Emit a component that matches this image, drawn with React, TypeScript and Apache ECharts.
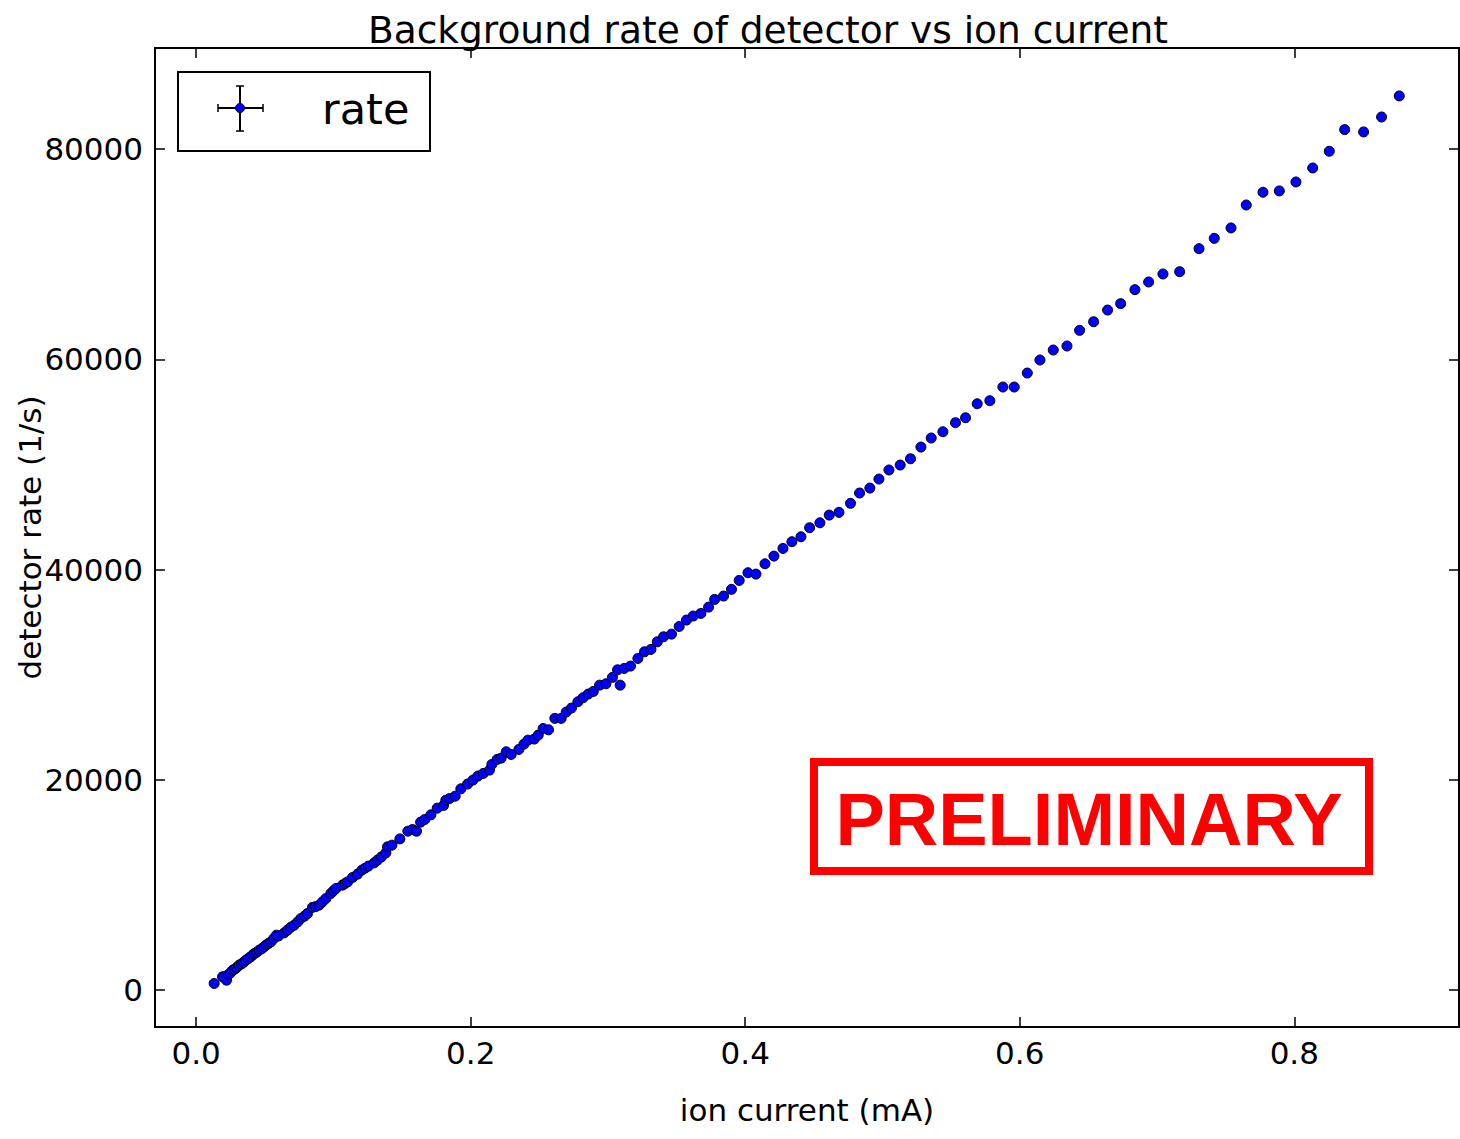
import React, { useEffect, useRef } from "react";
import * as echarts from "echarts";

const ionCurrent: number[] = [
  0.0131, 0.0192, 0.0204, 0.0221, 0.0235, 0.025, 0.0265, 0.028, 0.0295, 0.0313,
  0.033, 0.0345, 0.0362, 0.0378, 0.0395, 0.041, 0.0425, 0.044, 0.0459, 0.0478,
  0.0495, 0.051, 0.0527, 0.0544, 0.0565, 0.0585, 0.06, 0.0641, 0.0665, 0.069,
  0.0714, 0.074, 0.0763, 0.079, 0.0811, 0.0847, 0.087, 0.0896, 0.092, 0.0945,
  0.0981, 0.1, 0.1018, 0.1066, 0.1085, 0.1103, 0.1139, 0.1175, 0.1207, 0.123,
  0.1255, 0.1297, 0.1321, 0.135, 0.1382, 0.1394, 0.1426, 0.1484, 0.1542, 0.1576,
  0.1605, 0.1635, 0.1666, 0.171, 0.1756, 0.1802, 0.1819, 0.1846, 0.1887, 0.1928,
  0.1977, 0.2016, 0.2052, 0.2091, 0.2137, 0.2154, 0.2193, 0.2222, 0.2259, 0.2295,
  0.2351, 0.2388, 0.2417, 0.2463, 0.2492, 0.2528, 0.2567, 0.2613, 0.2659, 0.2696,
  0.2734, 0.2781, 0.2818, 0.2856, 0.2893, 0.2939, 0.2985, 0.3033, 0.307, 0.3089,
  0.3118, 0.3164, 0.3218, 0.3266, 0.3313, 0.3359, 0.3405, 0.3463, 0.3519, 0.3572,
  0.3621, 0.3677, 0.3733, 0.3777, 0.3842, 0.39, 0.3956, 0.402, 0.4078, 0.4144,
  0.4209, 0.4275, 0.434, 0.4406, 0.4469, 0.4544, 0.4612, 0.4683, 0.4767, 0.4833,
  0.4908, 0.4974, 0.5047, 0.5129, 0.5204, 0.528, 0.5355, 0.544, 0.5532, 0.5605,
  0.569, 0.5782, 0.5877, 0.596, 0.6055, 0.6147, 0.6244, 0.6344, 0.6436, 0.6538,
  0.664, 0.6735, 0.6839, 0.6939, 0.7043, 0.7165, 0.7306, 0.7417, 0.7539, 0.765,
  0.7772, 0.7891, 0.8012, 0.8134, 0.8255, 0.8367, 0.8505, 0.8636, 0.8765,
];

const detectorRate: number[] = [
  640, 1270, 1270, 950, 1500, 1650, 1900, 2000, 2150, 2380,
  2500, 2650, 2850, 3000, 3150, 3330, 3500, 3600, 3800, 3950,
  4120, 4300, 4450, 4590, 4900, 5230, 5150, 5450, 5710, 6000,
  6180, 6500, 6820, 7050, 7300, 7870, 7950, 8090, 8400, 8720,
  9200, 9450, 9670, 9990, 10150, 10300, 10720, 11030, 11420, 11600,
  11800, 12110, 12370, 12680, 13060, 13630, 13790, 14390, 15120, 15280,
  15120, 15980, 16240, 16680, 17310, 17570, 18070, 18230, 18450, 19150,
  19600, 19980, 20360, 20610, 20930, 21470, 21950, 22070, 22670, 22420,
  22900, 23400, 23780, 23880, 24260, 24890, 24760, 25850, 25850, 26450,
  26830, 27430, 27810, 28160, 28410, 29010, 29140, 29750, 30470, 29010,
  30600, 30820, 31550, 32180, 32410, 33130, 33610, 33860, 34590, 35200,
  35580, 35830, 36430, 37160, 37480, 38120, 38970, 39700, 39570, 40550,
  41280, 42010, 42650, 43120, 43980, 44450, 45180, 45440, 46300, 47280,
  47750, 48610, 49470, 49940, 50540, 51650, 52510, 53110, 53970, 54440,
  55770, 56060, 57360, 57360, 58690, 59930, 60880, 61260, 62750, 63570,
  64680, 65290, 66620, 67350, 68110, 68330, 70520, 71500, 72490, 74670,
  75880, 76010, 76860, 78190, 79780, 81840, 81620, 83040, 85040,
];

const titleText = "Background rate of detector vs ion current";
const xName = "ion current (mA)";
const yName = "detector rate (1/s)";
const seriesName = "rate";
const stampText = "PRELIMINARY";

const FONT = "DejaVu Sans";

export default function App() {
  const ref = useRef<HTMLDivElement>(null);
  useEffect(() => {
    if (!ref.current) return;
    const chart = echarts.init(ref.current, null, { renderer: "svg" });
    const data = ionCurrent.map((x, i) => [x, detectorRate[i]]);
    const tick = { inside: true, length: 10, lineStyle: { color: "#000", width: 1.5 } };
    const noLine = { show: false, onZero: false };
    const xBase = { type: "value", min: -0.03, max: 0.92, splitNumber: 5, splitLine: { show: false }, axisLine: noLine };
    const yBase = { type: "value", min: -3500, max: 89600, splitNumber: 5, splitLine: { show: false }, axisLine: noLine };
    chart.setOption({
      animation: false,
      backgroundColor: "#fff",
      grid: {
        left: 155, right: 1, top: 48, bottom: 112, show: true, borderColor: "#000", borderWidth: 2,
        backgroundColor: "transparent", containLabel: false, outerBoundsMode: "none",
      },
      xAxis: [
        {
          ...xBase,
          position: "bottom",
          axisTick: tick,
          axisLabel: {
            showMinLabel: false, showMaxLabel: false, margin: 10, fontSize: 31, color: "#000", fontFamily: FONT,
            formatter: (v: number) => v.toFixed(1),
          },
          name: xName, nameLocation: "middle", nameGap: 67, nameMoveOverlap: false,
          nameTextStyle: { fontSize: 31, color: "#000", fontFamily: FONT },
        },
        { ...xBase, position: "top", axisTick: tick, axisLabel: { show: false } },
      ],
      yAxis: [
        {
          ...yBase,
          position: "left",
          axisTick: tick,
          axisLabel: {
            showMinLabel: false, showMaxLabel: false, margin: 12, fontSize: 31, color: "#000", fontFamily: FONT,
            formatter: (v: number) => String(v),
          },
          name: yName, nameLocation: "middle", nameGap: 110, nameRotate: 90, nameMoveOverlap: false,
          nameTextStyle: { fontSize: 31, color: "#000", fontFamily: FONT },
        },
        { ...yBase, position: "right", axisTick: tick, axisLabel: { show: false } },
      ],
      series: [
        {
          name: seriesName,
          type: "scatter",
          xAxisIndex: 0,
          yAxisIndex: 0,
          data,
          symbol: "circle",
          symbolSize: 10,
          itemStyle: { color: "#0000ff", borderColor: "#000", borderWidth: 1, opacity: 1 },
        },
      ],
      graphic: [
        {
          type: "text", x: 768, y: 30, z: 12,
          style: { text: titleText, textAlign: "center", textVerticalAlign: "middle", fontSize: 37.5, fontFamily: FONT, fill: "#000" },
        },
        { type: "rect", shape: { x: 178, y: 72, width: 252, height: 79 }, style: { fill: "#fff", stroke: "#000", lineWidth: 2 }, z: 10 },
        { type: "line", shape: { x1: 218, y1: 108, x2: 263, y2: 108 }, style: { stroke: "#000", lineWidth: 2 }, z: 11 },
        { type: "line", shape: { x1: 240, y1: 86, x2: 240, y2: 131 }, style: { stroke: "#000", lineWidth: 2 }, z: 11 },
        { type: "line", shape: { x1: 218, y1: 104, x2: 218, y2: 112 }, style: { stroke: "#000", lineWidth: 1.5 }, z: 11 },
        { type: "line", shape: { x1: 263, y1: 104, x2: 263, y2: 112 }, style: { stroke: "#000", lineWidth: 1.5 }, z: 11 },
        { type: "line", shape: { x1: 236, y1: 86, x2: 244, y2: 86 }, style: { stroke: "#000", lineWidth: 1.5 }, z: 11 },
        { type: "line", shape: { x1: 236, y1: 131, x2: 244, y2: 131 }, style: { stroke: "#000", lineWidth: 1.5 }, z: 11 },
        { type: "circle", shape: { cx: 240, cy: 108, r: 4.5 }, style: { fill: "#0000ff", stroke: "#000", lineWidth: 1 }, z: 12 },
        {
          type: "text", x: 322, y: 109, z: 12,
          style: { text: seriesName, textVerticalAlign: "middle", fontSize: 43, fontFamily: FONT, fill: "#000" },
        },
        { type: "rect", shape: { x: 814, y: 762, width: 555, height: 109 }, style: { fill: "none", stroke: "#ff0000", lineWidth: 8 }, z: 10 },
        {
          type: "text", x: 1089, y: 819, z: 11,
          style: { text: stampText, textAlign: "center", textVerticalAlign: "middle", fontSize: 74, fontWeight: "bold", fontFamily: "Liberation Sans", fill: "#ff0000" },
        },
      ],
    });
    return () => chart.dispose();
  }, []);
  return <div ref={ref} style={{ position: "fixed", left: 0, top: 0, width: 1460, height: 1139 }} />;
}
